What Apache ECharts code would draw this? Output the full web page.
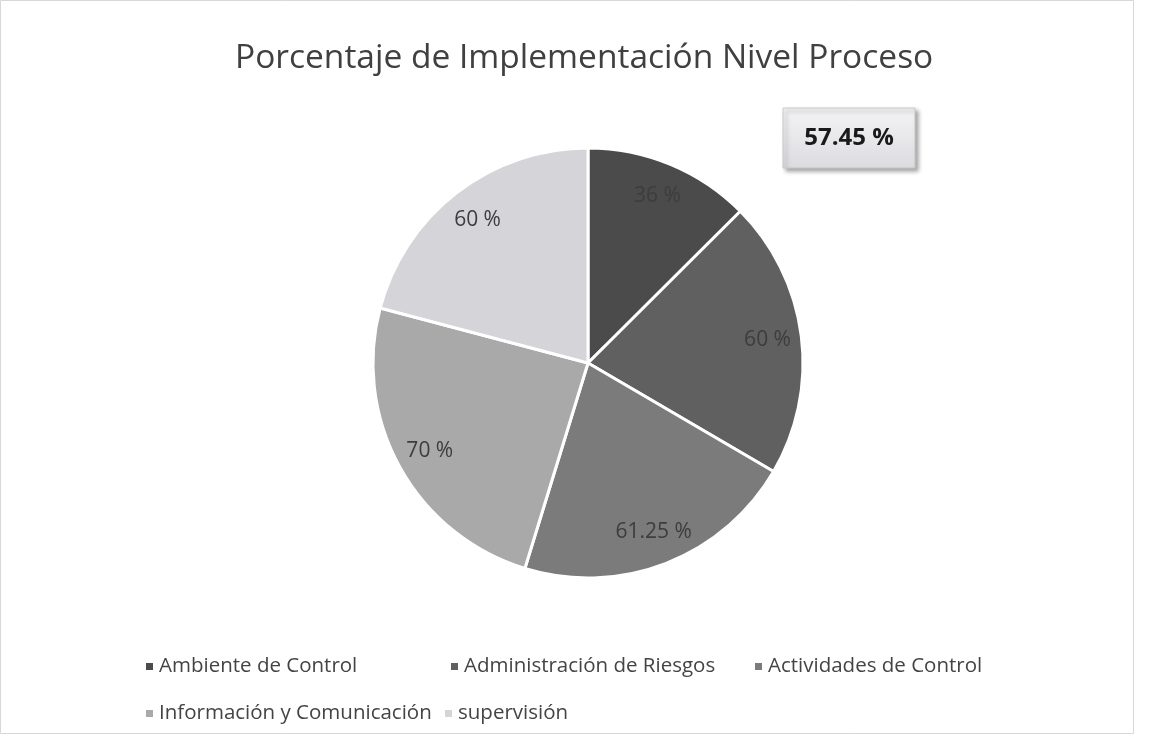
<!DOCTYPE html>
<html>
<head>
<meta charset="utf-8">
<script src="https://cdn.jsdelivr.net/npm/echarts@6/dist/echarts.min.js"></script>
<style>
  html, body { margin: 0; padding: 0; background: #fff; }
  #chart { width: 1149px; height: 740px; }
</style>
</head>
<body>
<div id="chart"></div>
<script>
const categories = ["Ambiente de Control", "Administración de Riesgos", "Actividades de Control", "Información y Comunicación", "supervisión"];
const values = [36, 60, 61.25, 70, 60];
const labels = ["36 %", "60 %", "61.25 %", "70 %", "60 %"];
const totalLabel = "57.45 %";
const colors = ["#4b4b4b", "#606060", "#7b7b7b", "#a9a9a9", "#d4d4d9"];

const chart = echarts.init(document.getElementById("chart"));
const font = "'Open Sans', sans-serif";

// leyenda colocada a mano, como en Excel
const legendPos = [
  { left: 139, top: 651 },
  { left: 444, top: 651 },
  { left: 748, top: 651 },
  { left: 139, top: 698 },
  { left: 438, top: 698 },
];

const pieData = categories.map((name, i) => ({
  name: name,
  value: values[i],
  itemStyle: { color: colors[i] },
}));

const options = {
  animation: false,
  backgroundColor: "#fff",
  title: {
    text: "Porcentaje de Implementación Nivel Proceso",
    left: 230,
    top: 36,
    textStyle: {
      fontFamily: font,
      fontSize: 33.5,
      fontWeight: "normal",
      color: "#404040",
    },
  },
  legend: legendPos.map((p, i) => ({
    data: [categories[i]],
    left: p.left,
    top: p.top,
    icon: "rect",
    itemWidth: 9,
    itemHeight: 9,
    itemGap: 6,
    textStyle: { fontFamily: font, fontSize: 20.5, color: "#444" },
    selectedMode: false,
  })),
  series: [
    {
      name: "proceso",
      type: "pie",
      center: [588, 363],
      radius: [0, 215],
      startAngle: 90,
      clockwise: true,
      silent: true,
      label: { show: false },
      labelLine: { show: false },
      itemStyle: { borderColor: "#fff", borderWidth: 3 },
      data: pieData,
    },
    // capa transparente solo para poner las etiquetas más afuera
    {
      name: "etiquetas",
      type: "pie",
      center: [588, 363],
      radius: [141, 215],
      startAngle: 90,
      clockwise: true,
      silent: true,
      itemStyle: { color: "rgba(0,0,0,0)" },
      label: {
        show: true,
        position: "inside",
        fontFamily: font,
        fontSize: 21,
        color: "#3d3d3d",
        formatter: (p) => labels[p.dataIndex],
      },
      labelLine: { show: false },
      data: categories.map((name, i) => ({ name: name, value: values[i] })),
    },
  ],
  graphic: [
    {
      type: "rect",
      shape: { x: 0.5, y: 0.5, width: 1133, height: 733 },
      style: { fill: "none", stroke: "#d8d8d8", lineWidth: 1 },
    },
    {
      type: "rect",
      shape: { x: 783, y: 108, width: 132, height: 60 },
      style: {
        fill: new echarts.graphic.LinearGradient(0, 0, 0, 1, [
          { offset: 0, color: "#f4f4f6" },
          { offset: 1, color: "#dcdce0" },
        ]),
        stroke: "#c8c8c8",
        lineWidth: 1,
        shadowBlur: 4,
        shadowOffsetX: 3,
        shadowOffsetY: 3,
        shadowColor: "rgba(0,0,0,0.35)",
      },
    },
    {
      type: "text",
      x: 849,
      y: 138,
      style: {
        text: totalLabel,
        fontFamily: font,
        fontSize: 24,
        fontWeight: "bold",
        fill: "#1a1a1a",
        align: "center",
        verticalAlign: "middle",
      },
    },
  ],
};

chart.setOption(options);
</script>
</body>
</html>
